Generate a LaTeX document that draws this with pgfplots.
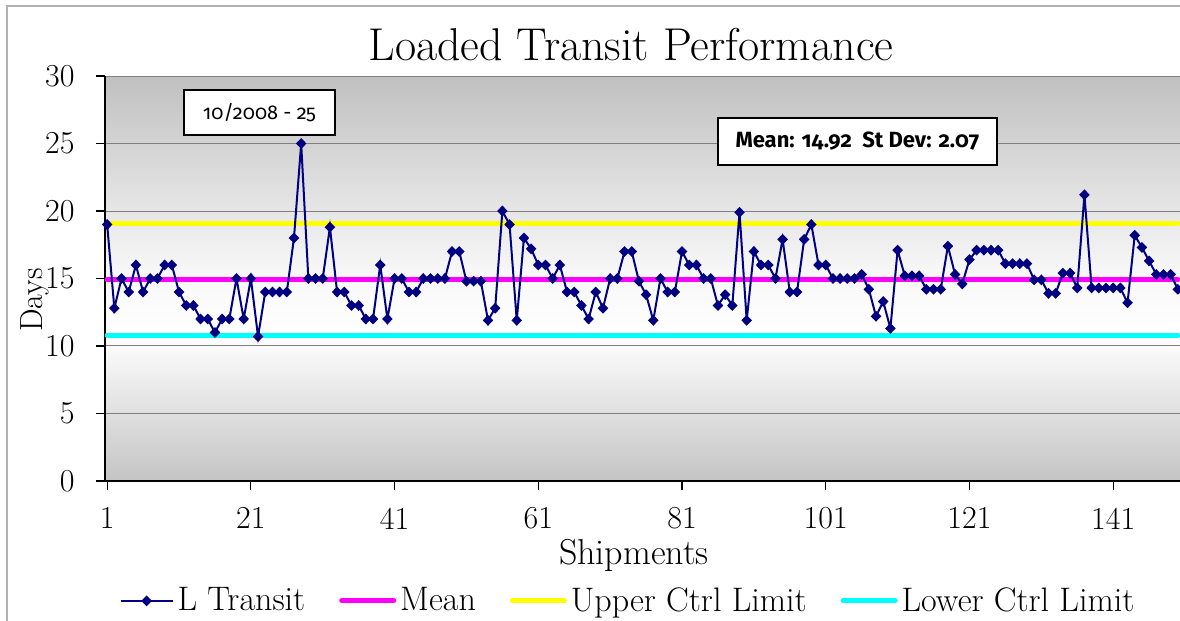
\documentclass[border=0pt]{standalone}
\usepackage{fontspec}
\newfontfamily\boxfont[Numbers=OldStyle]{Fira Sans}
\usepackage{pgfplots}
\pgfplotsset{compat=1.18}
\definecolor{navy}{HTML}{000080}
\definecolor{meanc}{HTML}{FF00FF}
\definecolor{uclc}{HTML}{FFFF00}
\definecolor{lclc}{HTML}{00FFFF}
\definecolor{bgbot}{HTML}{C4C4C4}
\definecolor{bgtop}{HTML}{C0C0C0}
\definecolor{bgmid}{HTML}{F7F7F7}
\definecolor{gridc}{HTML}{808080}
\pgfdeclareverticalshading{excelbg}{100bp}{color(0bp)=(bgbot); color(25bp)=(bgbot); color(43bp)=(white); color(51bp)=(bgmid); color(75bp)=(bgtop); color(100bp)=(bgtop)}
\pgfplotstableread{
x y
1 19
2 12.8
3 15
4 14
5 16
6 14
7 15
8 15
9 16
10 16
11 14
12 13
13 13
14 12
15 12
16 11
17 12
18 12
19 15
20 12
21 15
22 10.7
23 14
24 14
25 14
26 14
27 18
28 25
29 15
30 15
31 15
32 18.8
33 14
34 14
35 13
36 13
37 12
38 12
39 16
40 12
41 15
42 15
43 14
44 14
45 15
46 15
47 15
48 15
49 17
50 17
51 14.8
52 14.8
53 14.8
54 11.9
55 12.8
56 20
57 19
58 11.9
59 18
60 17.2
61 16
62 16
63 15
64 16
65 14
66 14
67 13
68 12
69 14
70 12.8
71 15
72 15
73 17
74 17
75 14.8
76 13.8
77 11.9
78 15
79 14
80 14
81 17
82 16
83 16
84 15
85 15
86 13
87 13.8
88 13
89 19.9
90 11.9
91 17
92 16
93 16
94 15
95 17.9
96 14
97 14
98 17.9
99 19
100 16
101 16
102 15
103 15
104 15
105 15
106 15.3
107 14.2
108 12.2
109 13.3
110 11.3
111 17.1
112 15.2
113 15.2
114 15.2
115 14.2
116 14.2
117 14.2
118 17.4
119 15.3
120 14.6
121 16.4
122 17.1
123 17.1
124 17.1
125 17.1
126 16.1
127 16.1
128 16.1
129 16.1
130 14.9
131 14.9
132 13.9
133 13.9
134 15.4
135 15.4
136 14.3
137 21.2
138 14.3
139 14.3
140 14.3
141 14.3
142 14.3
143 13.2
144 18.2
145 17.3
146 16.3
147 15.3
148 15.3
149 15.3
150 14.2
}\transit
\begin{document}
\begin{tikzpicture}[x=1pt,y=1pt]
\path[use as bounding box] (-52.5,-70) rectangle (537.5,240.5);
\draw[gray!60, line width=0.6pt] (-49,-71) -- (-49,237.5) -- (538,237.5);
\begin{axis}[
  scale only axis, width=537.5pt, height=202.5pt,
  xmin=0.7, xmax=150.3, ymin=0, ymax=30,
  xtick={1,21,...,141}, ytick={0,5,...,30},
  axis x line*=bottom, axis y line*=left,
  axis line style={black, line width=0.8pt},
  tick align=outside, major tick length=4.5pt,
  tick style={black, line width=0.6pt},
  ymajorgrids, grid style={gridc, line width=0.5pt},
  axis background/.style={shading=excelbg},
  ticklabel style={font=\fontsize{16}{18}\selectfont, inner sep=1pt},
  yticklabel style={xshift=-9.5pt},
  xticklabel style={yshift=-7.6pt},
  /pgf/number format/assume math mode=true,
  legend style={at={(0.4874,-0.296)}, anchor=center, draw=none, fill=none,
    font=\fontsize{17}{19}\selectfont, inner sep=0pt,
    /tikz/every even column/.append style={column sep=15pt}},
  legend columns=4,
  legend image code/.code={\draw[mark repeat=2,mark phase=2,#1] plot coordinates {(0pt,0pt) (13pt,0pt) (26pt,0pt)};},
]
\addlegendimage{navy, line width=1pt, mark=diamond*, mark size=2pt, mark options={xscale=1.3}}
\addlegendentry{L Transit}
\addplot[meanc, line width=2.5pt, line cap=round] coordinates {(1,14.92) (150,14.92)};
\addlegendentry{Mean}
\addplot[uclc, line width=2.5pt, line cap=round] coordinates {(1,19.06) (150,19.06)};
\addlegendentry{Upper Ctrl Limit}
\addplot[lclc, line width=2.5pt, line cap=round] coordinates {(1,10.8) (150,10.8)};
\addlegendentry{Lower Ctrl Limit}
\addplot[forget plot, navy, line width=1pt, mark=diamond*, mark size=2pt, mark options={xscale=1.3}] table[x=x,y=y] {\transit};
\node[draw=black, line width=1pt, fill=white, minimum width=75.5pt, minimum height=22.5pt, inner sep=0pt, font=\boxfont\fontsize{10}{12}\selectfont] at (axis cs:22.2,27.26) {10/2008 - 25};
\node[draw=black, line width=1pt, fill=white, minimum width=139.5pt, minimum height=23.5pt, inner sep=0pt, font=\boxfont\bfseries\fontsize{11}{13}\selectfont] at (axis cs:105.4,25.15) {Mean: 14.92\ \ St Dev: 2.07};
\end{axis}
\node[font=\fontsize{23}{27}\selectfont] at (263,218) {Loaded Transit Performance};
\node[rotate=90, font=\fontsize{16}{18}\selectfont] at (-35,90.5) {Days};
\node[inner sep=0pt, font=\fontsize{18}{21}\selectfont] at (264.5,-37.2) {Shipments};
\end{tikzpicture}
\end{document}
